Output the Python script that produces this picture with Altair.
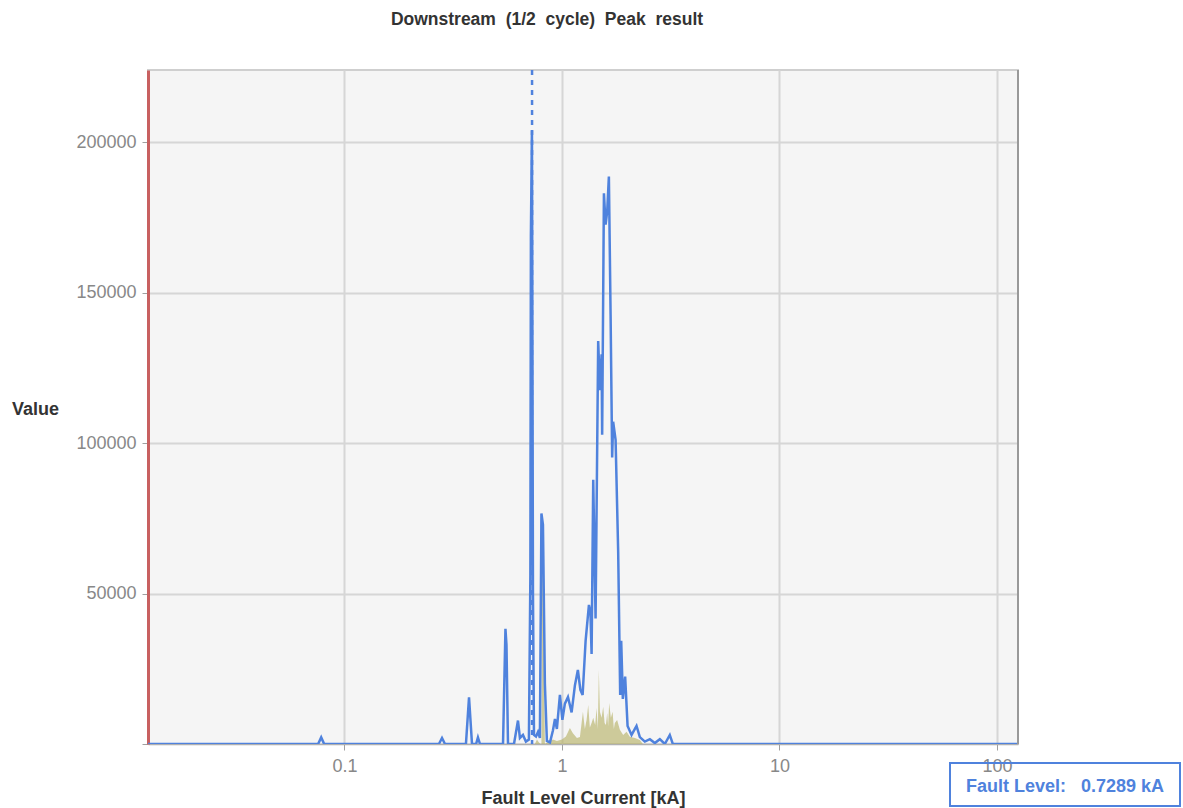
import altair as alt
import pandas as pd

# ---- data ----
blue_ka = [0.0125, 0.0757, 0.0782, 0.0807, 0.272, 0.281, 0.290, 0.362, 0.374, 0.386,
           0.403, 0.411, 0.420, 0.536, 0.550, 0.556, 0.565, 0.602, 0.628, 0.641,
           0.662, 0.683, 0.705, 0.716, 0.720, 0.728, 0.736, 0.744, 0.760, 0.776,
           0.792, 0.805, 0.818, 0.835, 0.853, 0.881, 0.909, 0.929, 0.948, 0.979,
           1.005, 1.032, 1.066, 1.108, 1.147, 1.184, 1.216, 1.245, 1.285, 1.331,
           1.352, 1.369, 1.393, 1.428, 1.468, 1.495, 1.522, 1.531, 1.560, 1.588,
           1.615, 1.644, 1.674, 1.702, 1.720, 1.765, 1.814, 1.853, 1.873, 1.906,
           1.953, 2.004, 2.090, 2.203, 2.282, 2.406, 2.537, 2.674, 2.820, 2.972,
           3.133, 3.235, 125.0]
blue_val = [0, 0, 2200, 0, 0, 2000, 0, 0, 15500, 0,
            0, 2200, 0, 0, 38300, 33000, 0, 0, 7800, 2000,
            3000, 800, 1500, 56000, 169000, 204000, 50000, 3000, 2500, 4000,
            2000, 76600, 72900, 20000, 1000, 500, 4500, 8300, 5000, 16300,
            8000, 13400, 15600, 10500, 19400, 24600, 18000, 16300, 34300, 46200,
            44000, 29900, 87800, 41700, 133900, 117600, 129500, 102800, 183000, 172600,
            177000, 188600, 142800, 95200, 107100, 101100, 64000, 16300, 34300, 15000,
            22400, 6000, 3000, 6000, 2300, 800, 1600, 300, 1600, 0,
            3000, 0, 0]

olive_ka = [0.751, 0.768, 0.784, 0.797, 0.805, 0.812, 0.820, 0.835, 0.853, 0.909,
            0.948, 1.000, 1.043, 1.088, 1.123, 1.172, 1.210, 1.249, 1.275, 1.298,
            1.321, 1.344, 1.369, 1.393, 1.422, 1.443, 1.463, 1.478, 1.495, 1.522,
            1.548, 1.571, 1.593, 1.615, 1.631, 1.649, 1.679, 1.710, 1.733, 1.751,
            1.794, 1.847, 1.913, 1.982, 2.053, 2.165, 2.282, 2.356]
olive_val = [0, 1500, 500, 0, 0, 62000, 58000, 0, 500, 1500,
             1000, 1500, 2500, 5300, 3600, 2000, 2300, 10700, 5000, 8000,
             13000, 5500, 7000, 8700, 6300, 12000, 5000, 24600, 10700, 8700,
             12400, 7000, 6300, 10300, 6000, 13600, 8700, 10700, 5000, 7000,
             8000, 4700, 3000, 4100, 2400, 2000, 1300, 0]

fault_level = [0.7289]
x_ticks = [0.1, 1, 10, 100]
y_ticks = [0, 50000, 100000, 150000, 200000]

title_text = "Downstream\u00a0 (1/2\u00a0 cycle)\u00a0 Peak\u00a0 result"
x_title = "Fault Level Current [kA]"
y_title = "Value"

# ---- layout ----
W, H = 870, 674
FONT = "Liberation Sans"
BLUE = "#4f82dd"

blue_df = pd.DataFrame({"ka": blue_ka, "val": blue_val})
olive_df = pd.DataFrame({"ka": olive_ka, "val": olive_val})
fault_df = pd.DataFrame({"ka": fault_level,
                         "label": [f"Fault Level:\u00a0\u00a0 {fault_level[0]} kA"]})

xscale = alt.Scale(type="log", domain=[0.0125, 125])
yscale = alt.Scale(domain=[0, 224000], nice=False)

x_axis = alt.Axis(values=x_ticks, format="~g", title=x_title, grid=True,
                  gridColor="#d6d6d6", gridWidth=2, domainColor="#b0b0b0",
                  tickColor="#a0a0a0", tickSize=6, labelPadding=7,
                  labelFontSize=18, labelColor="#888888", labelFont=FONT,
                  titleFont=FONT, titleFontSize=18, titleFontWeight="bold",
                  titleColor="#333333", titleY=54, titleBaseline="middle")
y_axis = alt.Axis(values=y_ticks, format="d",
                  labelExpr="datum.value == 0 ? '' : datum.label",
                  title=y_title, grid=True, gridColor="#d6d6d6", gridWidth=2,
                  domainColor="#c86060", domainWidth=3, tickColor="#a0a0a0",
                  tickSize=6, labelPadding=6, labelFontSize=18,
                  labelColor="#888888", labelFont=FONT, titleFont=FONT,
                  titleFontSize=18, titleFontWeight="bold", titleColor="#333333",
                  titleAngle=0, titleX=-113, titleY=339, titleAlign="center",
                  titleBaseline="middle")

x_enc = alt.X("ka:Q", scale=xscale, axis=x_axis)
y_enc = alt.Y("val:Q", scale=yscale, axis=y_axis)

olive = alt.Chart(olive_df).mark_area(color="#b3ad5e", opacity=0.6, clip=True).encode(
    x=x_enc, y=y_enc)

dash = alt.Chart(fault_df).mark_rule(color=BLUE, strokeDash=[5, 5], strokeWidth=2.5).encode(
    x=alt.X("ka:Q", scale=xscale), y=alt.value(0), y2=alt.value(H))

line = alt.Chart(blue_df).mark_line(color=BLUE, strokeWidth=2.5, clip=True).encode(
    x=x_enc, y=y_enc)

right_border = alt.Chart(fault_df).mark_rule(color="#999999", strokeWidth=2).encode(
    x=alt.value(W), y=alt.value(0), y2=alt.value(H))

box = alt.Chart(fault_df).mark_rect(fillOpacity=0, stroke=BLUE, strokeWidth=2).encode(
    x=alt.value(802), x2=alt.value(1032), y=alt.value(693), y2=alt.value(736))

box_text = alt.Chart(fault_df).mark_text(color=BLUE, font=FONT, fontSize=18,
                                         fontWeight="bold", align="center",
                                         baseline="middle").encode(
    x=alt.value(917), y=alt.value(717), text="label:N")

chart = alt.layer(olive, dash, line, right_border, box, box_text).properties(
    width=W, height=H,
    title=alt.TitleParams(title_text, anchor="middle", frame="group", dx=-36, offset=40,
                          fontSize=17.5, font=FONT, fontWeight="bold", color="#333333"),
    autosize=alt.AutoSizeParams(type="none"),
    padding={"left": 148, "top": 70, "right": 165, "bottom": 64},
    background="white",
).configure_view(fill="#f5f5f5", stroke="#cfcfcf", strokeWidth=2)

chart.save("out.html", embed_options={"renderer": "svg", "actions": False})
